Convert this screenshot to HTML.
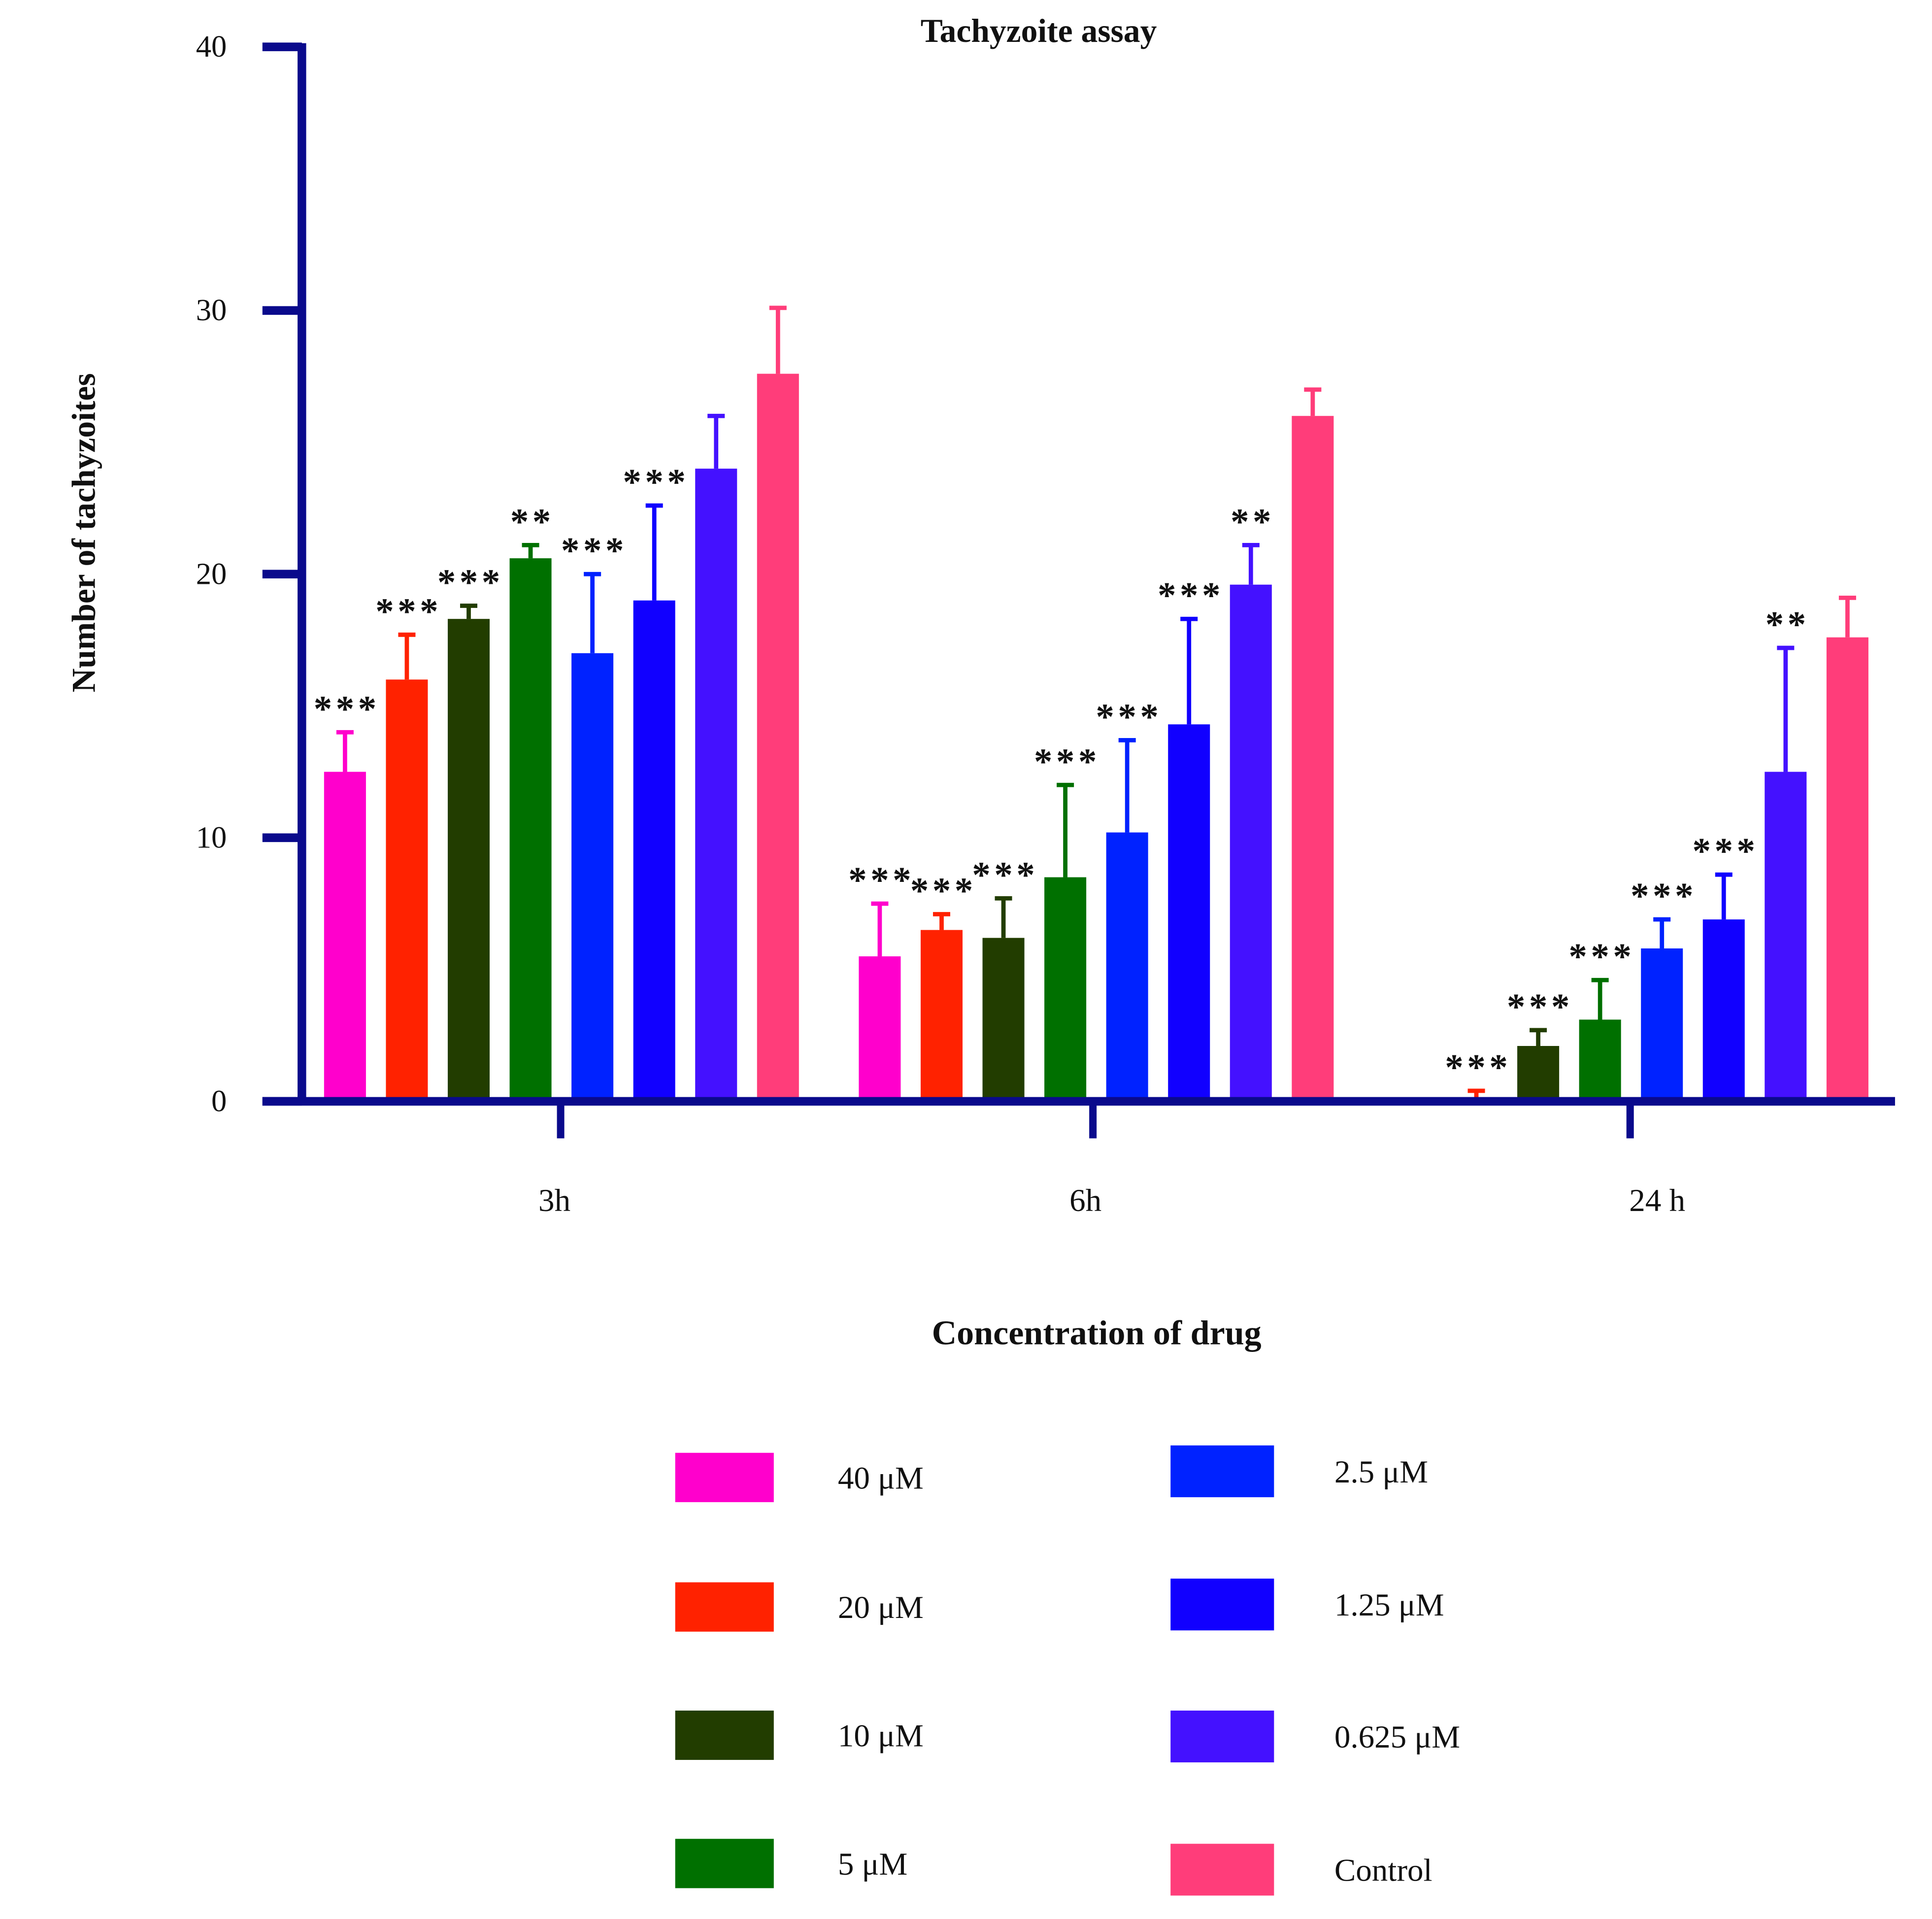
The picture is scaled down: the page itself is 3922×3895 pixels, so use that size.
<!DOCTYPE html>
<html><head><meta charset="utf-8"><style>
html,body{margin:0;padding:0;background:#fff;}
svg{display:block;}
text{font-family:"Liberation Serif",serif;fill:#111;}
</style></head><body>
<svg id="chart" width="3922" height="3895" viewBox="0 0 1568 1556" preserveAspectRatio="none" xmlns="http://www.w3.org/2000/svg">
<text x="843" y="34" text-anchor="middle" font-size="27" font-weight="bold">Tachyzoite assay</text>
<text transform="translate(77,432) rotate(-90)" text-anchor="middle" font-size="27" font-weight="bold">Number of tachyzoites</text>
<text x="890" y="1090" text-anchor="middle" font-size="28" font-weight="bold">Concentration of drug</text>
<g id="plot"></g>
<g id="legend"></g>
</svg>
<script>
const groups = ["3h", "6h", "24 h"];
const seriesNames = ["40 μM", "20 μM", "10 μM", "5 μM", "2.5 μM", "1.25 μM", "0.625 μM", "Control"];
const colors = ["#ff00cc", "#ff2200", "#223d00", "#007000", "#0022ff", "#1100ff", "#4411ff", "#ff3d7a"];
const values3h = [12.5, 16.0, 18.3, 20.6, 17.0, 19.0, 24.0, 27.6];
const values6h = [5.5, 6.5, 6.2, 8.5, 10.2, 14.3, 19.6, 26.0];
const values24h = [0, 0.1, 2.1, 3.1, 5.8, 6.9, 12.5, 17.6];
const errors3h = [1.5, 1.7, 0.5, 0.5, 3.0, 3.6, 2.0, 2.5];
const errors6h = [2.0, 0.6, 1.5, 3.5, 3.5, 4.0, 1.5, 1.0];
const errors24h = [0, 0.3, 0.6, 1.5, 1.1, 1.7, 4.7, 1.5];
const stars3h = ["***","***","***","**","***","***","",""];
const stars6h = ["***","***","***","***","***","***","**",""];
const stars24h = ["","***","***","***","***","***","**",""];
const yTicks = [0, 10, 20, 30, 40];

const allValues=[values3h,values6h,values24h], allErr=[errors3h,errors6h,errors24h], allStars=[stars3h,stars6h,stars24h];
const NS="http://www.w3.org/2000/svg";
const y0=893, yTop=38;
const yScale=v=>y0-(v/40)*(y0-yTop);
const groupStart=[280,714,1148], step=50.2, barW=34;
const xScale=(g,i)=>groupStart[g]+i*step;
const plot=document.getElementById('plot');
function mk(tag,attrs,parent){const e=document.createElementNS(NS,tag);for(const k in attrs)e.setAttribute(k,attrs[k]);(parent||plot).appendChild(e);return e;}
const axisC="#0a0a8c";
allValues.forEach((vals,g)=>{
  vals.forEach((v,i)=>{
    const cx=xScale(g,i), top=yScale(v), c=colors[i];
    const r=mk('rect',{x:cx-barW/2,y:top,width:barW,height:Math.max(0,y0-top),fill:c});
    
    
    const e=allErr[g][i];
    if(v>0||e>0){
      const et=yScale(v+e);
      const l=mk('path',{d:`M${cx} ${top} V${et} M${cx-7} ${et} H${cx+7}`,stroke:c,'stroke-width':3.5,fill:'none'});
      
      
    }
    const s=allStars[g][i];
    if(s){
      const t=mk('text',{x:cx+1.5,y:yScale(v+e)-9,'text-anchor':'middle','font-size':'30','font-weight':'bold','letter-spacing':'3','font-family':'Liberation Sans, sans-serif',fill:'#0a1428'});
      t.textContent=s;
      
      
    }
  });
  const gx=[455,887,1323][g];
  const tk=mk('line',{x1:gx,y1:y0,x2:gx,y2:923,stroke:axisC,'stroke-width':6});
  
  
  const gl=mk('text',{x:[450,881,1345][g],y:982,'text-anchor':'middle','font-size':'26'});
  gl.textContent=groups[g];
  
  
});
const ya=mk('line',{x1:245,y1:35,x2:245,y2:896,stroke:axisC,'stroke-width':7});


const xa=mk('line',{x1:213,y1:893,x2:1538,y2:893,stroke:axisC,'stroke-width':7});


yTicks.forEach(v=>{
  const y=yScale(v);
  const t=mk('line',{x1:213,y1:y,x2:245,y2:y,stroke:axisC,'stroke-width':7});
  
  
  const l=mk('text',{x:184,y:y+8,'text-anchor':'end','font-size':'25'});
  l.textContent=v;
  
  
});
const leg=document.getElementById('legend');
const legLeftY=[1178,1283,1387,1491], legRightY=[1172,1280,1387,1495];
seriesNames.forEach((n,i)=>{
  const col=i<4?0:1, r=i%4;
  const sx=col?950:548, sw=col?84:80, sy=col?legRightY[r]:legLeftY[r], sh=col?42:40;
  const rect=mk('rect',{x:sx,y:sy,width:sw,height:sh,fill:colors[i]},leg);
  
  
  const t=mk('text',{x:col?1083:680,y:sy+sh/2+9,'font-size':'26'},leg);
  t.textContent=n;
  
  
});
</script>
</body></html>
